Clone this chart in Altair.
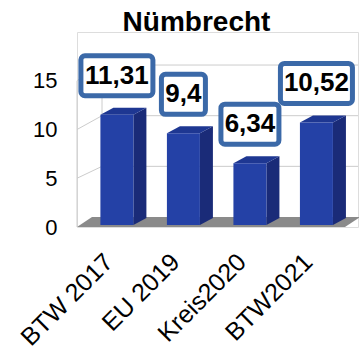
import altair as alt
import pandas as pd

# ---- data ----
categories = ["BTW 2017", "EU 2019", "Kreis2020", "BTW2021"]
values = [11.31, 9.4, 6.34, 10.52]
value_labels = ["11,31", "9,4", "6,34", "10,52"]
y_ticks = [0, 5, 10, 15]
title_text = "Nümbrecht"

# ---- geometry / style constants ----
X_DOMAIN = [-0.6, 3.625]
Y_DOMAIN = [0, 20]
PLOT_W, PLOT_H = 281, 195
PX_X = PLOT_W / (X_DOMAIN[1] - X_DOMAIN[0])
PX_Y = PLOT_H / (Y_DOMAIN[1] - Y_DOMAIN[0])

HALF = 16.5 / PX_X          # half width of bar front face
BAR_DX = 13 / PX_X          # bar depth (x)
BAR_DY = 7 / PX_Y           # bar depth (y)
BASE = 2 / PX_Y             # bars sit slightly back on the floor
WALL_DX = 25 / PX_X         # side wall depth
FLOOR_DX = 15 / PX_X
FLOOR_DY = 10 / PX_Y
FLOOR_W = 268 / PX_X
BACK_SCALE = 1.039          # perspective of back wall
LBL_OFF = 39 / PX_Y         # label box centre above bar top
BOX_H = 40 / PX_Y
CAT_DX = -8 / PX_X
CAT_DY = -31 / PX_Y

FONT = "Liberation Sans"
C_FRONT = "#2441a6"
C_SIDE = "#1a2b78"
C_TOP = "#1e3792"
C_BOX = "#3b69a8"
C_FLOOR = "#8a8a8a"
C_GRID = "#cccccc"

xs = alt.Scale(domain=X_DOMAIN, nice=False, zero=False)
ys = alt.Scale(domain=Y_DOMAIN, nice=False, zero=False)
y_axis = alt.Axis(values=y_ticks, domain=False, ticks=False, grid=False,
                  labelFontSize=22, labelFont=FONT, labelColor="black",
                  labelPadding=20, title=None)


def X(f):
    return alt.X(f, type="quantitative", scale=xs, axis=None)


def Y(f):
    return alt.Y(f, type="quantitative", scale=ys, axis=y_axis, stack=False)


# floor
x_left = X_DOMAIN[0]
x_right = X_DOMAIN[0] + FLOOR_W
floor_df = pd.DataFrame({
    "x": [x_left, x_left + FLOOR_DX, x_right, x_right + FLOOR_DX],
    "lo": [0, 0, 0, FLOOR_DY],
    "hi": [0, FLOOR_DY, FLOOR_DY, FLOOR_DY],
})
floor = alt.Chart(floor_df).mark_area(color=C_FLOOR).encode(
    x=X("x"), y=Y("lo"), y2="hi")

# walls / grid
grid_rows = []
for t in y_ticks[1:]:
    back = FLOOR_DY + BACK_SCALE * t
    grid_rows.append({"x": x_left, "x2": x_left + WALL_DX, "y": t, "y2": back})
    grid_rows.append({"x": x_left + WALL_DX, "x2": X_DOMAIN[1], "y": back, "y2": back})
top_t = y_ticks[-1]
grid_rows.append({"x": x_left, "x2": x_left, "y": 0, "y2": top_t})
grid_rows.append({"x": x_left + WALL_DX, "x2": x_left + WALL_DX, "y": FLOOR_DY,
                  "y2": FLOOR_DY + BACK_SCALE * top_t})
grid_df = pd.DataFrame(grid_rows)
grid = alt.Chart(grid_df).mark_rule(color=C_GRID, strokeWidth=1).encode(
    x=X("x"), x2="x2", y=Y("y"), y2="y2")

# bars
bars_df = pd.DataFrame({"cat": categories, "v": values, "lab": value_labels})
bars_df["i"] = range(len(categories))
bars_df["x0"] = bars_df["i"] - HALF
bars_df["x1"] = bars_df["i"] + HALF
bars_df["b"] = BASE
bars_df["t"] = bars_df["v"] + BASE

side_rows, top_rows = [], []
for r in bars_df.to_dict("records"):
    c = r["cat"]
    side_rows.append({"cat": c, "x": r["x1"], "lo": r["b"], "hi": r["t"]})
    side_rows.append({"cat": c, "x": r["x1"] + BAR_DX, "lo": r["b"] + BAR_DY, "hi": r["t"] + BAR_DY})
    top_rows.append({"cat": c, "x": r["x0"], "lo": r["t"], "hi": r["t"]})
    top_rows.append({"cat": c, "x": r["x0"] + BAR_DX, "lo": r["t"], "hi": r["t"] + BAR_DY})
    top_rows.append({"cat": c, "x": r["x1"], "lo": r["t"], "hi": r["t"] + BAR_DY})
    top_rows.append({"cat": c, "x": r["x1"] + BAR_DX, "lo": r["t"] + BAR_DY, "hi": r["t"] + BAR_DY})

side = alt.Chart(pd.DataFrame(side_rows)).mark_area(color=C_SIDE).encode(
    x=X("x"), y=Y("lo"), y2="hi", detail="cat:N")
top = alt.Chart(pd.DataFrame(top_rows)).mark_area(color=C_TOP).encode(
    x=X("x"), y=Y("lo"), y2="hi", detail="cat:N")

front = alt.Chart(bars_df).mark_rect(color=C_FRONT).encode(
    x=X("x0"), x2="x1", y=Y("b"), y2="t")

# value label boxes
base_lbl = alt.Chart(bars_df).transform_calculate(
    c="datum.t + %f" % LBL_OFF,
    w="(14 * length(datum.lab) + 2) / %f" % PX_X,
).transform_calculate(
    bx0="datum.i - datum.w / 2",
    bx1="datum.i + datum.w / 2",
    by0="datum.c - %f" % (BOX_H / 2),
    by1="datum.c + %f" % (BOX_H / 2),
)
boxes = base_lbl.mark_rect(fill="white", stroke=C_BOX, strokeWidth=5, cornerRadius=4).encode(
    x=X("bx0"), x2="bx1", y=Y("by0"), y2="by1")
texts = base_lbl.mark_text(fontSize=26, fontWeight="bold", font=FONT, color="black",
                           align="center", baseline="middle").encode(
    x=X("i"), y=Y("c"), text="lab:N")

# category labels
cats = alt.Chart(bars_df).transform_calculate(
    cx="datum.i + %f" % CAT_DX, cy="%f" % CAT_DY
).mark_text(angle=315, align="right", baseline="middle", fontSize=25, font=FONT,
            color="black").encode(x=X("cx"), y=Y("cy"), text="cat:N")

chart = alt.layer(floor, grid, side, top, front, boxes, texts, cats).properties(
    width=PLOT_W, height=PLOT_H,
    title=alt.TitleParams(title_text, font=FONT, fontSize=28, fontWeight="bold",
                          color="black", anchor="middle", dx=-21, offset=-5),
    autosize=alt.AutoSizeParams(type="none"),
    padding={"left": 77, "top": 32, "right": 1, "bottom": 127},
).configure_view(stroke=None).configure(background="white")

chart.save("out.html", embed_options={"renderer": "svg", "actions": False})
